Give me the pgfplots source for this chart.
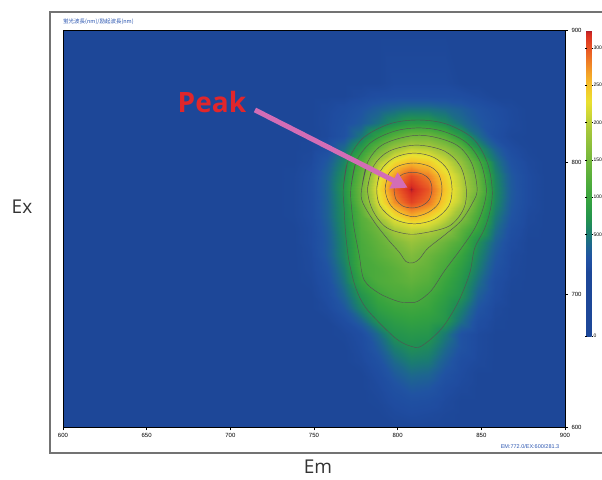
\documentclass[border=0pt]{standalone}
\usepackage{fontspec}
\setmainfont{Liberation Sans}
\newfontfamily\jpfont{Noto Sans CJK JP}
\newfontfamily\osfont{Open Sans}
\usepackage{pgfplots}
\pgfplotsset{compat=1.18}
\usepackage{pgfplotstable}
\usetikzlibrary{arrows.meta,calc}

\definecolor{txtblue}{HTML}{2A55B0}
\definecolor{arrowpink}{HTML}{D36DB6}
\definecolor{peakred}{HTML}{E1262B}
\definecolor{c00}{HTML}{1D4798}
\definecolor{c01}{HTML}{1F4CA0}
\definecolor{c02}{HTML}{2053A2}
\definecolor{c03}{HTML}{1D6590}
\definecolor{c04}{HTML}{1A7B72}
\definecolor{c05}{HTML}{22924F}
\definecolor{c06}{HTML}{34A23F}
\definecolor{c07}{HTML}{55AE3B}
\definecolor{c08}{HTML}{80BB3C}
\definecolor{c09}{HTML}{A6C73A}
\definecolor{c10}{HTML}{CCD636}
\definecolor{c11}{HTML}{EAE030}
\definecolor{c12}{HTML}{F5C52A}
\definecolor{c13}{HTML}{F4A428}
\definecolor{c14}{HTML}{EF7D26}
\definecolor{c15}{HTML}{E85324}
\definecolor{c16}{HTML}{D92E21}
\definecolor{c17}{HTML}{C82624}
\definecolor{c18}{HTML}{9E1A2E}

\pgfplotstableread{
em ex v
600 600 0
728 600 0
738 600 0
748 600 0
758 600 0
768 600 0
778 600 0
788 600 0
798 600 0
808 600 0
818 600 0
828 600 0
838 600 0
848 600 0
858 600 0
868 600 0
878 600 0
888 600 0
900 600 0
600 610 0
728 610 0
738 610 0
748 610 0
758 610 0
768 610 0
778 610 0
788 610 0
798 610 4
808 610 7
818 610 5
828 610 2
838 610 0
848 610 0
858 610 0
868 610 0
878 610 0
888 610 0
900 610 0
600 620 0
728 620 0
738 620 0
748 620 0
758 620 0
768 620 0
778 620 0
788 620 2
798 620 9
808 620 14
818 620 12
828 620 5
838 620 0
848 620 0
858 620 0
868 620 0
878 620 0
888 620 0
900 620 0
600 630 0
728 630 0
738 630 0
748 630 0
758 630 0
768 630 0
778 630 0
788 630 5
798 630 16
808 630 26
818 630 23
828 630 10
838 630 4
848 630 0
858 630 0
868 630 0
878 630 0
888 630 0
900 630 0
600 640 0
728 640 0
738 640 0
748 640 0
758 640 0
768 640 0
778 640 0
788 640 9
798 640 26
808 640 38
818 640 35
828 640 18
838 640 7
848 640 0
858 640 0
868 640 0
878 640 0
888 640 0
900 640 0
600 650 0
728 650 0
738 650 0
748 650 0
758 650 0
768 650 0
778 650 4
788 650 16
798 650 38
808 650 52
818 650 49
828 650 28
838 650 10
848 650 4
858 650 0
868 650 0
878 650 0
888 650 0
900 650 0
600 660 0
728 660 0
738 660 0
748 660 0
758 660 0
768 660 0
778 660 7
788 660 26
798 660 52
808 660 66
818 660 61
828 660 38
838 660 18
848 660 5
858 660 0
868 660 0
878 660 0
888 660 0
900 660 0
600 670 0
728 670 0
738 670 0
748 670 0
758 670 0
768 670 2
778 670 10
788 670 38
798 670 71
808 670 78
818 670 75
828 670 49
838 670 18
848 670 5
858 670 0
868 670 0
878 670 0
888 670 0
900 670 0
600 680 0
728 680 0
738 680 0
748 680 0
758 680 0
768 680 9
778 680 32
788 680 70
798 680 85
808 680 92
818 680 88
828 680 75
838 680 42
848 680 12
858 680 2
868 680 0
878 680 0
888 680 0
900 680 0
600 690 0
728 690 0
738 690 0
748 690 0
758 690 5
768 690 23
778 690 58
788 690 88
798 690 100
808 690 105
818 690 100
828 690 80
838 690 54
848 690 21
858 690 4
868 690 0
878 690 0
888 690 0
900 690 0
600 700 0
728 700 0
738 700 0
748 700 0
758 700 10
768 700 35
778 700 73
788 700 102
798 700 116
808 700 120
818 700 109
828 700 89
838 700 70
848 700 31
858 700 9
868 700 0
878 700 0
888 700 0
900 700 0
600 710 0
728 710 0
738 710 0
748 710 2
758 710 14
768 710 45
778 710 95
788 710 118
798 710 126
808 710 135
818 710 125
828 710 100
838 710 77
848 710 42
858 710 12
868 710 2
878 710 0
888 710 0
900 710 0
600 720 0
728 720 0
738 720 0
748 720 4
758 720 19
768 720 52
778 720 109
788 720 118
798 720 130
808 720 145
818 720 135
828 720 112
838 720 86
848 720 51
858 720 19
868 720 4
878 720 0
888 720 0
900 720 0
600 730 0
728 730 0
738 730 0
748 730 5
758 730 26
768 730 60
778 730 112
788 730 128
798 730 143
808 730 160
818 730 144
828 730 124
838 730 98
848 730 58
858 730 25
868 730 5
878 730 0
888 730 0
900 730 0
600 740 0
728 740 0
738 740 0
748 740 7
758 740 26
768 740 61
778 740 115
788 740 135
798 740 157
808 740 179
818 740 165
828 740 142
838 740 117
848 740 67
858 740 32
868 740 9
878 740 0
888 740 0
900 740 0
600 750 0
728 750 0
738 750 0
748 750 7
758 750 28
768 750 65
778 750 121
788 750 147
798 750 192
808 750 207
818 750 202
828 750 175
838 750 134
848 750 94
858 750 42
868 750 14
878 750 2
888 750 0
900 750 0
600 760 0
728 760 0
738 760 2
748 760 9
758 760 32
768 760 68
778 760 128
788 760 192
798 760 233
808 760 263
818 760 246
828 760 213
838 760 169
848 760 112
858 760 52
868 760 21
878 760 4
888 760 0
900 760 0
600 770 0
728 770 0
738 770 2
748 770 9
758 770 32
768 770 70
778 770 144
788 770 217
798 770 274
808 770 308
818 770 287
828 770 238
838 770 197
848 770 130
858 770 61
868 770 25
878 770 7
888 770 0
900 770 0
600 780 0
728 780 0
738 780 2
748 780 9
758 780 33
768 780 74
778 780 148
788 780 227
798 780 290
808 780 328
818 780 299
828 780 248
838 780 202
848 780 146
858 780 63
868 780 26
878 780 7
888 780 0
900 780 0
600 790 0
728 790 0
738 790 2
748 790 9
758 790 32
768 790 68
778 790 140
788 790 217
798 790 270
808 790 304
818 790 282
828 790 238
838 790 196
848 790 139
858 790 60
868 790 25
878 790 7
888 790 0
900 790 0
600 800 0
728 800 0
738 800 0
748 800 5
758 800 25
768 800 58
778 800 121
788 800 190
798 800 233
808 800 253
818 800 244
828 800 213
838 800 175
848 800 117
858 800 49
868 800 18
878 800 4
888 800 0
900 800 0
600 810 0
728 810 0
738 810 0
748 810 2
758 810 12
768 810 40
778 810 85
788 810 141
798 810 185
808 810 207
818 810 200
828 810 176
838 810 140
848 810 72
858 810 33
868 810 9
878 810 1
888 810 0
900 810 0
600 820 0
728 820 0
738 820 0
748 820 0
758 820 4
768 820 17
778 820 47
788 820 90
798 820 125
808 820 148
818 820 148
828 820 123
838 820 82
848 820 40
858 820 12
868 820 2
878 820 0
888 820 0
900 820 0
600 830 0
728 830 0
738 830 0
748 830 0
758 830 5
768 830 14
778 830 26
788 830 44
798 830 66
808 830 82
818 830 80
828 830 63
838 830 42
848 830 25
858 830 14
868 830 5
878 830 0
888 830 0
900 830 0
600 840 0
728 840 0
738 840 0
748 840 0
758 840 4
768 840 10
778 840 19
788 840 30
798 840 38
808 840 44
818 840 44
828 840 38
838 840 30
848 840 19
858 840 10
868 840 4
878 840 0
888 840 0
900 840 0
600 850 0
728 850 0
738 850 0
748 850 0
758 850 0
768 850 0
778 850 5
788 850 10
798 850 12
808 850 12
818 850 12
828 850 12
838 850 10
848 850 5
858 850 0
868 850 0
878 850 0
888 850 0
900 850 0
600 860 0
728 860 0
738 860 0
748 860 0
758 860 0
768 860 0
778 860 0
788 860 0
798 860 5
808 860 5
818 860 5
828 860 5
838 860 0
848 860 0
858 860 0
868 860 0
878 860 0
888 860 0
900 860 0
600 900 0
728 900 0
738 900 0
748 900 0
758 900 0
768 900 0
778 900 0
788 900 0
798 900 0
808 900 0
818 900 0
828 900 0
838 900 0
848 900 0
858 900 0
868 900 0
878 900 0
888 900 0
900 900 0
}\eemdata

\begin{document}
\begin{tikzpicture}
\begin{axis}[
  view={0}{90},
  scale only axis, width=502pt, height=397pt,
  xmin=600, xmax=900, ymin=600, ymax=900, zmin=0, zmax=400,
  xtick={600,650,...,900}, ytick={600,700,800,900}, ztick=\empty,
  xtick pos=left, ytick pos=right, yticklabel pos=right,
  tick align=outside, major tick length=3pt,
  tick style={black, line width=0.4pt},
  ticklabel style={font=\fontsize{6}{7}\selectfont},
  /pgf/number format/assume math mode=true,
  axis line style={line width=0.7pt, black},
  colormap={eem}{
    color(0pt)=(c00); color(86pt)=(c00); color(94pt)=(c01); color(106pt)=(c02);
    color(121pt)=(c03); color(136pt)=(c04); color(156pt)=(c05); color(181pt)=(c06);
    color(211pt)=(c07); color(246pt)=(c08); color(276pt)=(c09); color(296pt)=(c10);
    color(314pt)=(c11); color(334pt)=(c12); color(351pt)=(c13); color(368pt)=(c14);
    color(386pt)=(c15); color(404pt)=(c16); color(407pt)=(c17); color(410pt)=(c18)
  },
  point meta min=-86, point meta max=324,
  colorbar right,
  colorbar style={
    at={(parent axis.north east)}, anchor=north west, xshift=13pt,
    width=5pt, height=306pt,
    ytick={-86,50,100,150,200,250,300},
    yticklabels={0,500,100,150,200,250,300},
    yticklabel style={font=\fontsize{5}{5.5}\selectfont, inner sep=0.3pt},
    major tick length=1.5pt, tick align=outside,
    axis line style={draw=none},
    tick style={black, line width=0.4pt},
  },
]
\addplot3[surf, shader=interp, mesh/cols=19, mesh/ordering=x varies]
  table[x=em, y=ex, z=v] {\eemdata};

\pgfplotsset{ctr/.style={draw=black!68, line width=0.45pt, smooth, tension=0.55, no marks}}
\addplot3[ctr] coordinates {(797.9,780,0) (799.5,787,0) (803,791,0) (809,792.5,0) (815,791,0) (819,787,0) (820.5,780,0) (819,772,0) (815,767.5,0) (809,765.5,0) (803,767,0) (799,772,0) (797.9,780,0) (799.5,787,0)};
\addplot3[ctr] coordinates {(792.5,780,0) (794.5,791,0) (800,797,0) (809.5,799.5,0) (819,797,0) (824.5,791,0) (826.5,780,0) (824.5,769,0) (818,762,0) (809.5,759,0) (801,762,0) (795,769,0) (792.5,780,0) (794.5,791,0)};
\addplot3[ctr] coordinates {(787.5,780,0) (790,794,0) (798,803.5,0) (810,807,0) (822,803.5,0) (830,794,0) (832.5,780,0) (830.5,767,0) (822,757,0) (810,753.5,0) (798,757,0) (789.5,767,0) (787.5,780,0) (790,794,0)};
\addplot3[ctr] coordinates {(782,780,0) (785.5,797,0) (795,808.5,0) (811.5,813,0) (828,808.5,0) (837.5,797,0) (841,780,0) (839.5,765,0) (831,752,0) (815,746.5,0) (805,746,0) (793,751,0) (785,764,0) (782,780,0) (785.5,797,0)};
\addplot3[ctr] coordinates {(778.5,780,0) (782,800,0) (792,814,0) (813,820.5,0) (834,814,0) (844,800,0) (847.5,780,0) (845,770,0) (838,756,0) (828,745,0) (818,735,0) (813,727,0) (809,724,0) (805,725,0) (801,732,0) (794,742,0) (786,755,0) (779,770,0) (778.5,780,0) (782,800,0)};
\addplot3[ctr] coordinates {(772,780,0) (775,800,0) (784,815,0) (798,823.5,0) (812.5,826,0) (827,823.5,0) (841,815,0) (849.5,800,0) (853,780,0) (851,765,0) (846,750,0) (838,735,0) (828,718,0) (820,703,0) (812,695,0) (806,694,0) (800,695,0) (789,701,0) (780,711,0) (777,730,0) (774,750,0) (772.5,765,0) (772,780,0) (775,800,0)};
\addplot3[ctr] coordinates {(767.5,780,0) (770,800,0) (779,818,0) (795,829,0) (812,832,0) (829,829,0) (845,818,0) (853.5,800,0) (856.5,780,0) (855.5,765,0) (852,750,0) (846,735,0) (843,716,0) (836,694,0) (826,674,0) (814,661,0) (808,661,0) (801,665,0) (793.6,673,0) (781,690,0) (775,705,0) (771,725,0) (769,745,0) (768,765,0) (767.5,780,0) (770,800,0)};

\draw[line width=5pt, arrowpink, -{Triangle[length=16pt,width=17pt]}]
  (axis cs:714.7,839.6,0) -- (axis cs:806,780.8,0);
\node[font=\osfont\bfseries\fontsize{28}{30}\selectfont, text=peakred, inner sep=0pt]
  at (axis cs:689,845.6,0) {Peak};
\coordinate (ll) at (rel axis cs:0,0,0);
\end{axis}

\node[anchor=west, font=\jpfont\fontsize{5.5}{6}\selectfont, text=txtblue, inner sep=0pt]
  at ($(ll)+(0pt,405pt)$) {蛍光波長(nm)/励起波長(nm)};
\node[font=\fontsize{5.5}{6}\selectfont, text=txtblue, inner sep=0pt]
  at ($(ll)+(467pt,-20pt)$) {EM:772.0/EX:600/281.3};
\node[font=\osfont\fontsize{19}{23}\selectfont, text=black!80, inner sep=0pt]
  at ($(ll)+(-41pt,220pt)$) {Ex};
\node[font=\osfont\fontsize{19}{23}\selectfont, text=black!80, inner sep=0pt]
  at ($(ll)+(255pt,-40pt)$) {Em};
\draw[line width=1.2pt, black!55] ($(ll)+(545pt,415pt)$) -- ($(ll)+(-13pt,415pt)$)
  -- ($(ll)+(-13pt,-26pt)$) -- ($(ll)+(545pt,-26pt)$);
\pgfresetboundingbox
\path[use as bounding box] ($(ll)+(-63pt,-52pt)$) rectangle ($(ll)+(539pt,427pt)$);
\end{tikzpicture}
\end{document}
